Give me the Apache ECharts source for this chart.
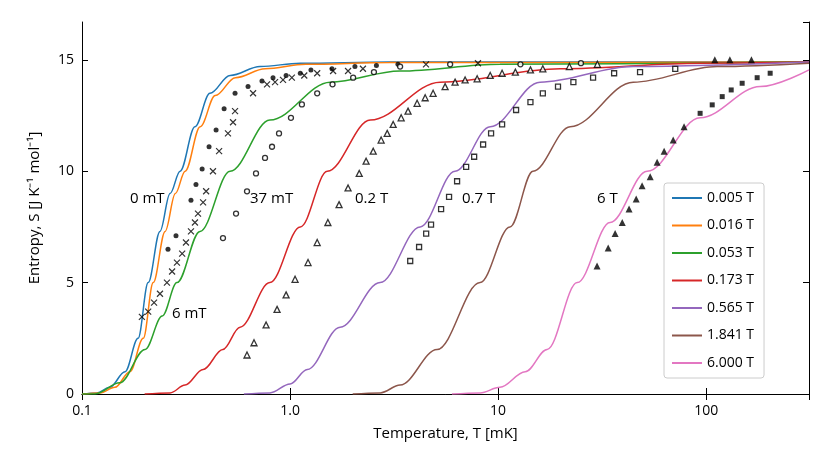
<!DOCTYPE html><html><head><meta charset="utf-8"><script src="https://cdn.jsdelivr.net/npm/echarts@6/dist/echarts.min.js"></script>
<style>body{margin:0}#c{width:823px;height:463px}</style></head><body><div id="c"></div><script>
const legendNames=['0.005 T','0.016 T','0.053 T','0.173 T','0.565 T','1.841 T','6.000 T'];
const colors=['#1f77b4','#ff7f0e','#2ca02c','#d62728','#9467bd','#8c564b','#e377c2'];
const curveT=[
[0.1,0.118,0.136,0.161,0.186,0.208,0.237,0.265,0.296,0.349,0.412,0.515,0.718,1.12,3,312],
[0.1,0.122,0.144,0.170,0.197,0.220,0.251,0.281,0.313,0.37,0.437,0.546,0.76,1.19,3,312],
[0.1,0.1155,0.152,0.201,0.243,0.286,0.369,0.515,0.80,1.56,3.38,10.2,312],
[0.2,0.265,0.313,0.382,0.475,0.575,0.80,1.12,1.51,2.43,5.26,19.9,93.5,312],
[0.6,0.80,1.0,1.21,1.74,2.71,4.22,6.21,9.16,15.9,44.6,312],
[2.0,2.71,3.38,5.09,8.19,11.4,14.7,22.2,44.6,113,312],
[6.0,8.19,10.2,13.5,17.2,24.0,34.5,52.0,93.5,182,312]];
const curveS=[
[0,0.05,0.3,1,2.5,5,7.3,9,10,12,13.5,14.3,14.7,14.85,14.9,14.9],
[0,0.05,0.3,1,2.5,5,7.3,9,10,12,13.4,14.2,14.6,14.8,14.88,14.9],
[0,0,0.5,2,3.5,5,7.3,10,12.3,14,14.5,14.8,14.9],
[0,0.05,0.4,1.1,2.0,3,5,7.5,10,12.3,14,14.6,14.85,14.9],
[0,0.05,0.45,1.1,3,5,7.5,10,12,14,14.7,14.9],
[0,0.05,0.4,2,5,7.5,10,12,14,14.7,14.85],
[0,0.05,0.3,1.0,2,5,7.7,10,12.4,13.8,14.55]];
const dotsT=[0.259,0.283,0.334,0.353,0.378,0.408,0.441,0.482,0.544,0.628,0.733,0.828,0.957,1.12,1.26,1.59,2.05,2.6,3.3];
const dotsS=[6.5,7.1,8.7,9.4,10.1,11.1,11.85,12.8,13.5,13.8,14.05,14.2,14.3,14.4,14.55,14.6,14.7,14.75,14.8];
const crossT=[0.194,0.208,0.222,0.237,0.256,0.271,0.286,0.303,0.316,0.334,0.349,0.361,0.382,0.395,0.426,0.456,0.503,0.532,0.544,0.664,0.775,0.847,0.925,1.02,1.17,1.35,1.61,1.90,2.24,4.5,8];
const crossS=[3.46,3.7,4.1,4.5,5.0,5.5,5.9,6.3,6.8,7.3,7.7,8.1,8.6,9.1,10.0,10.9,11.7,12.2,12.7,13.5,13.9,14.0,14.1,14.2,14.3,14.4,14.5,14.5,14.6,14.8,14.85];
const circT=[0.476,0.55,0.621,0.686,0.758,0.819,0.885,1.01,1.14,1.35,1.6,2.01,2.53,3.38,5.88,12.8,25];
const circS=[7.0,8.1,9.1,9.9,10.6,11.1,11.7,12.4,13.0,13.5,13.9,14.2,14.45,14.7,14.8,14.8,14.85];
const triT=[0.621,0.671,0.767,0.866,0.957,1.057,1.22,1.35,1.52,1.72,1.90,2.15,2.32,2.51,2.74,2.93,3.13,3.42,3.69,4.08,4.46,4.87,5.56,6.21,6.94,7.93,9.16,10.45,12.1,14.3,16.4,22,30];
const triS=[1.75,2.3,3.1,3.8,4.45,5.15,5.9,6.8,7.7,8.5,9.25,9.9,10.45,10.9,11.4,11.7,12.1,12.4,12.7,13.05,13.3,13.5,13.8,14.0,14.1,14.15,14.3,14.4,14.45,14.55,14.6,14.7,14.8];
const sqT=[3.78,4.17,4.51,4.76,5.32,5.81,6.35,7.02,7.67,8.47,9.25,10.45,12.2,14.3,16.4,19.4,23.0,28.6,36.1,48.1,71.0];
const sqS=[5.97,6.6,7.2,7.6,8.3,8.85,9.55,10.2,10.65,11.2,11.7,12.1,12.75,13.1,13.5,13.8,14.0,14.2,14.4,14.45,14.6];
const ftriT=[29.9,33.8,36.5,39.5,42.6,46.1,49.2,53.8,58.1,62.8,69.4,78.3,110,130,165];
const ftriS=[5.75,6.55,7.2,7.7,8.3,8.75,9.35,9.75,10.4,10.9,11.4,12.0,15.0,15.0,15.0];
const fsqT=[93.5,106.9,119.4,131.9,148.9,175.8,203];
const fsqS=[12.6,12.98,13.35,13.65,13.95,14.2,14.4];
const xTicks=[0.1,1,10,100];
const yTicks=[0,5,10,15];
const labels=[['0 mT',130,201],['37 mT',250,201],['0.2 T',355,201],['0.7 T',462,201],['6 T',597,201],['6 mT',172,316]];
const zip=(a,b)=>a.map((v,i)=>[v,b[i]]);
const F='"Open Sans", sans-serif';
const series=[];
curveT.forEach((t,i)=>series.push({type:'line',name:legendNames[i],data:zip(t,curveS[i]),smooth:0.35,smoothMonotone:'x',showSymbol:false,symbol:'none',lineStyle:{color:colors[i],width:1.5},itemStyle:{color:colors[i]},z:2}));
const sc=(d,sym,size,filled)=>({type:'scatter',data:d,symbol:sym,symbolSize:size,z:3,itemStyle:filled?{color:'#000'}:{color:'#fff',borderColor:'#000',borderWidth:1.3}});
series.push(sc(zip(dotsT,dotsS),'circle',5,true));
series.push({type:'scatter',data:zip(crossT,crossS),symbol:'path://M0,0L10,10M10,0L0,10',symbolSize:6,z:3,itemStyle:{color:'none',borderColor:'#000',borderWidth:1.2}});
series.push(sc(zip(circT,circS),'circle',5,false));
series.push(sc(zip(triT,triS),'triangle',6,false));
series.push(sc(zip(sqT,sqS),'rect',5,false));
series.push(sc(zip(ftriT,ftriS),'triangle',7,true));
series.push(sc(zip(fsqT,fsqS),'rect',5,true));
const ax={axisLine:{show:true,lineStyle:{color:'#000',width:1}},splitLine:{show:false},axisTick:{inside:true,length:6,lineStyle:{color:'#000'}},minorTick:{show:false}};
const chart=echarts.init(document.getElementById('c'));
chart.setOption({animation:false,
grid:{left:82,right:14,top:22,bottom:69},
legend:{data:legendNames,orient:'vertical',left:664,top:183,itemWidth:30,itemHeight:2,itemGap:13.5,icon:'rect',padding:[8,10,8,8],borderColor:'#ccc',borderWidth:1,borderRadius:3,backgroundColor:'#fff',textStyle:{fontFamily:F,fontSize:14,color:'#000'}},
xAxis:[{type:'log',min:0.1,max:312,logBase:10,...ax,name:'Temperature, T [mK]',nameLocation:'middle',nameGap:32,nameTextStyle:{fontFamily:F,fontSize:15,color:'#000'},axisLabel:{fontFamily:F,fontSize:14,color:'#000',margin:10,showMaxLabel:false,formatter:v=>xTicks.includes(v)?(v===1?'1.0':String(v)):''}},
{type:'log',min:0.1,max:312,position:'top',...ax,axisLabel:{show:false}}],
yAxis:[{type:'value',min:0,max:16.7,interval:5,...ax,name:'Entropy, S [J K⁻¹ mol⁻¹]',nameLocation:'middle',nameGap:40,nameTextStyle:{fontFamily:F,fontSize:15,color:'#000'},axisLabel:{fontFamily:F,fontSize:14,color:'#000',showMaxLabel:false,formatter:v=>yTicks.includes(v)?String(v):''}},
{type:'value',min:0,max:16.7,interval:5,position:'right',...ax,axisLabel:{show:false}}],
graphic:labels.map(l=>({type:'text',left:l[1],top:l[2]-10,style:{text:l[0],fontFamily:F,fontSize:15,fill:'#000'},z:10})),
series});
</script></body></html>
